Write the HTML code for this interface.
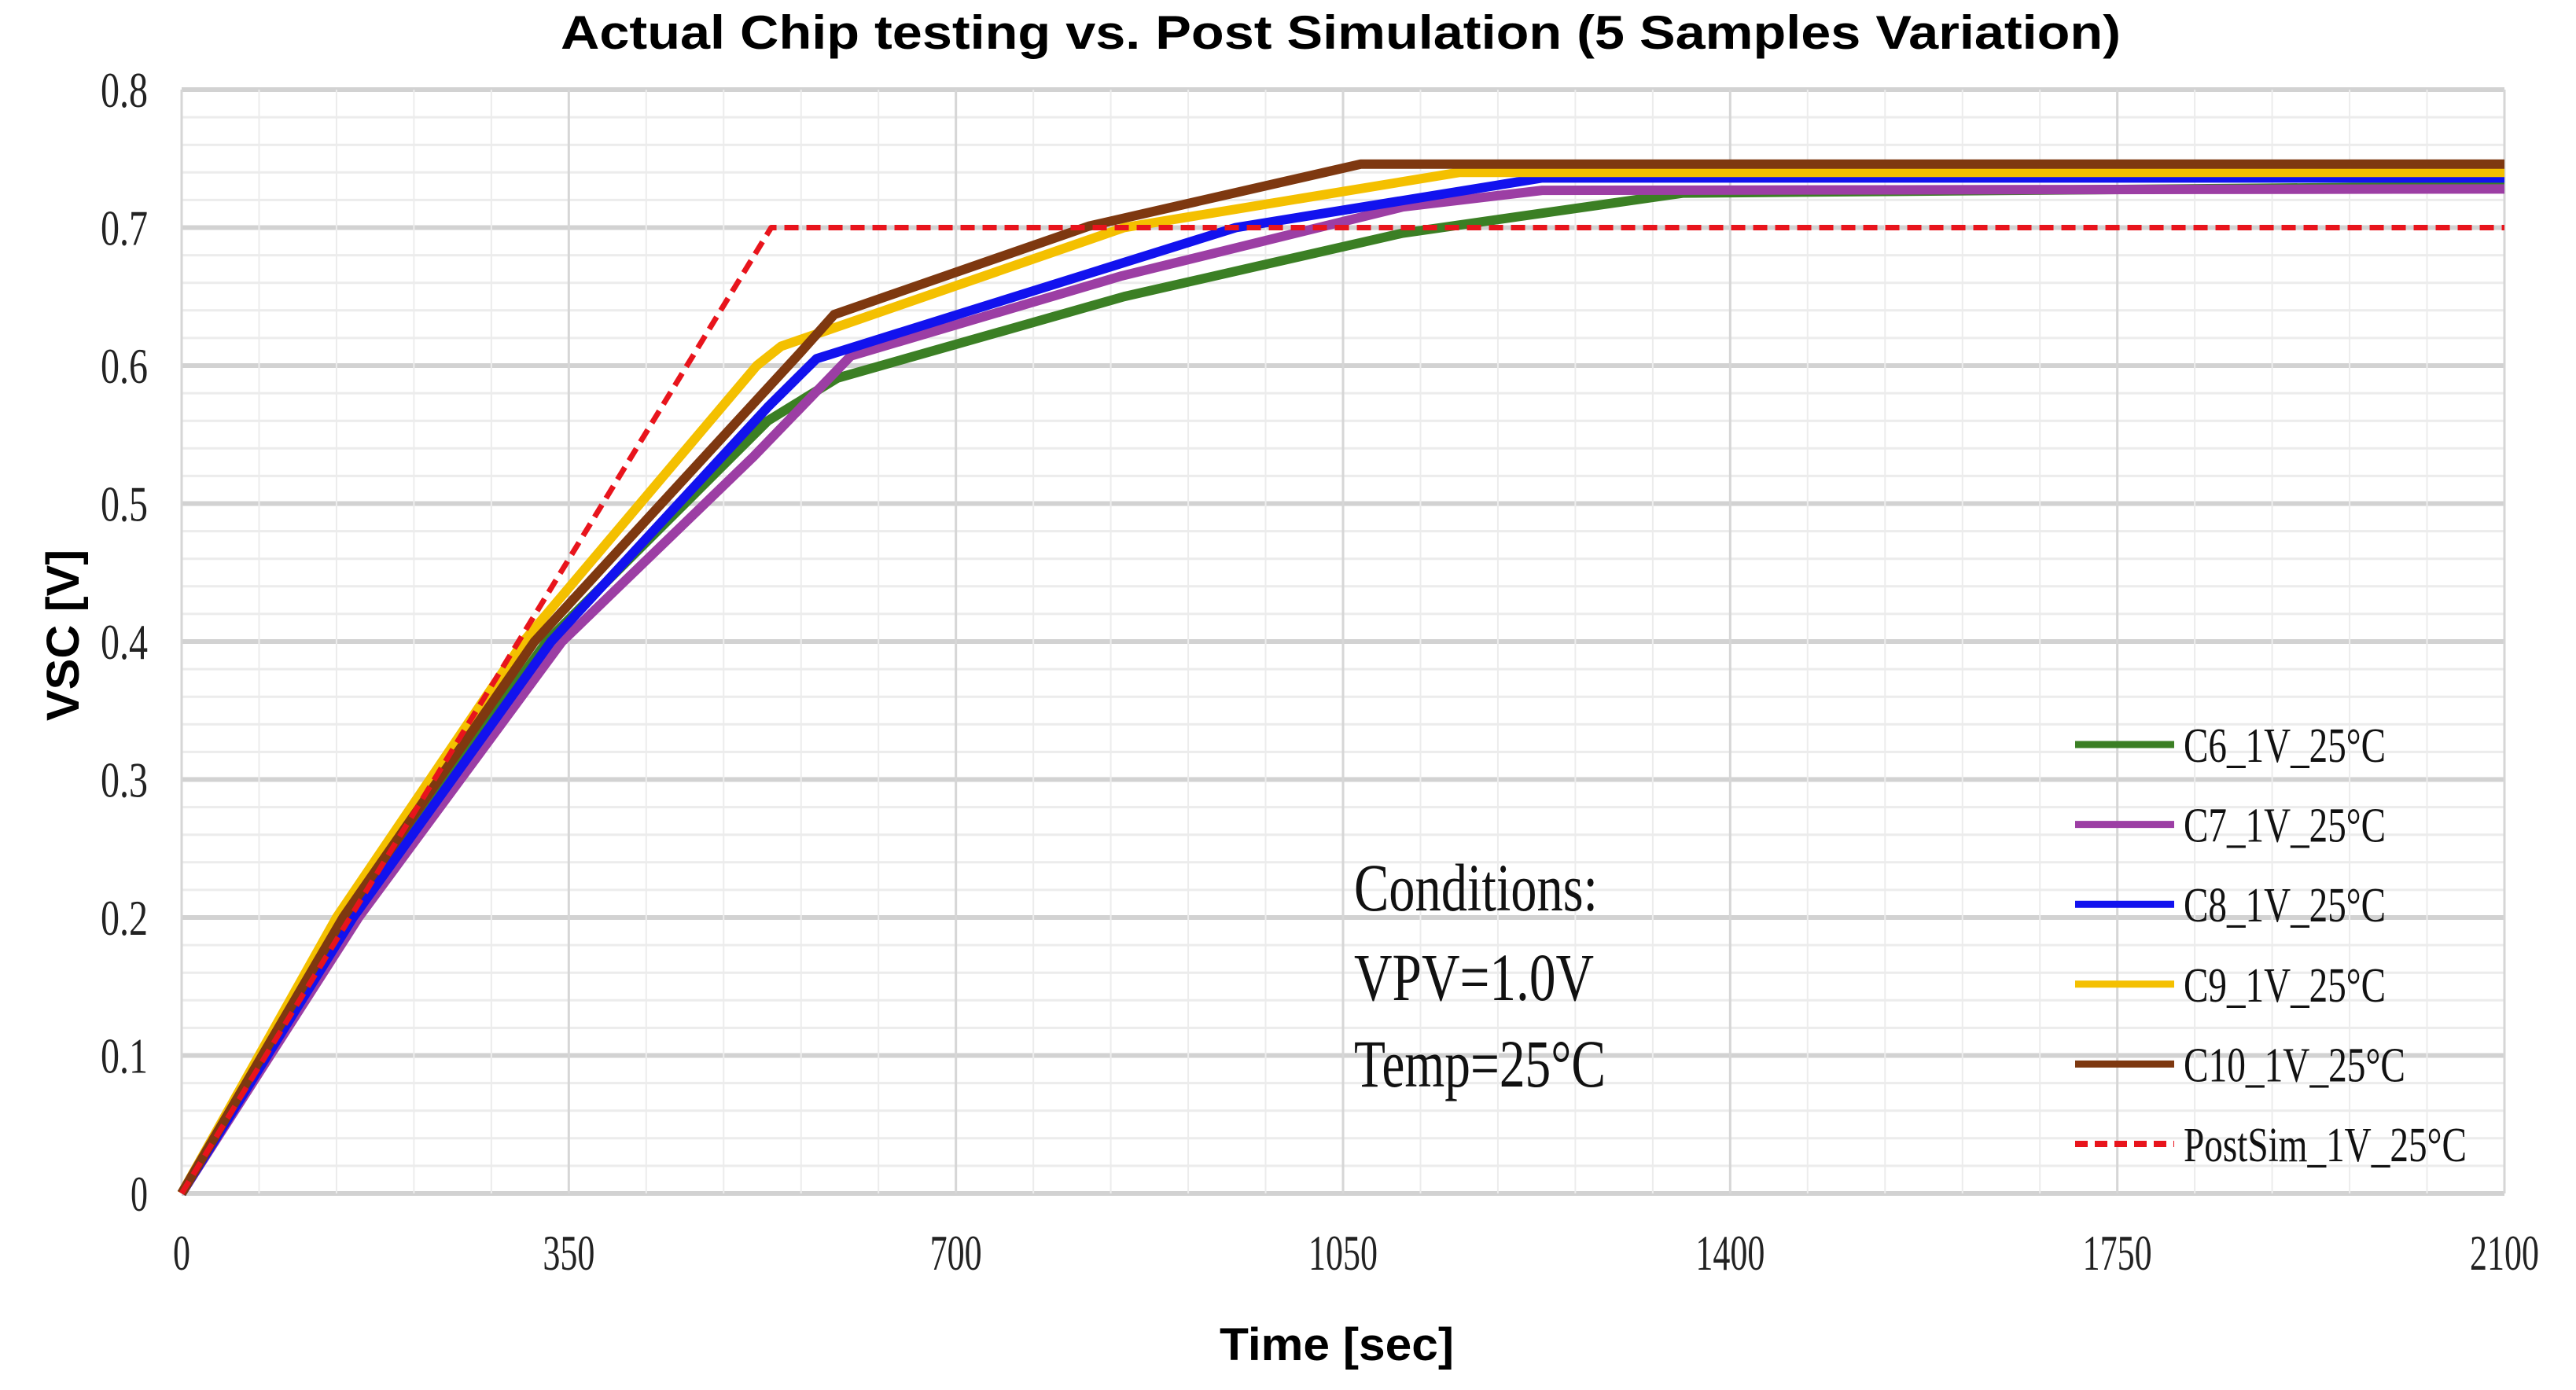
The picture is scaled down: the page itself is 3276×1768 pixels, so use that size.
<!DOCTYPE html>
<html><head><meta charset="utf-8"><style>
html,body{margin:0;padding:0;background:#fff;}
svg{display:block;}
</style></head><body>
<svg id="chart" width="3276" height="1768" viewBox="0 0 3276 1768" xmlns="http://www.w3.org/2000/svg">
<rect x="0" y="0" width="3276" height="1768" fill="#fff"/>
<g id="grid"></g>
<g id="series"></g>
<g id="ticks"></g>
<text x="1705" y="62" text-anchor="middle" font-family="Liberation Sans, sans-serif" font-weight="bold" font-size="60" textLength="1984" lengthAdjust="spacingAndGlyphs">Actual Chip testing vs. Post Simulation (5 Samples Variation)</text>
<text x="1700" y="1730" text-anchor="middle" font-family="Liberation Sans, sans-serif" font-weight="bold" font-size="58" textLength="298" lengthAdjust="spacingAndGlyphs">Time [sec]</text>
<text transform="translate(100,808) rotate(-90)" text-anchor="middle" font-family="Liberation Sans, sans-serif" font-weight="bold" font-size="58" textLength="218" lengthAdjust="spacingAndGlyphs">VSC [V]</text>
<g font-family="Liberation Serif, serif" font-size="86" fill="#111">
<text x="1722" y="1158" textLength="310" lengthAdjust="spacingAndGlyphs">Conditions:</text>
<text x="1722" y="1272" textLength="305" lengthAdjust="spacingAndGlyphs">VPV=1.0V</text>
<text x="1722" y="1382" textLength="320" lengthAdjust="spacingAndGlyphs">Temp=25°C</text>
</g>
<g id="legend"></g>
</svg>
<script>
const names = ["C6_1V_25°C","C7_1V_25°C","C8_1V_25°C","C9_1V_25°C","C10_1V_25°C","PostSim_1V_25°C"];
const colors = ["#3b7f24","#9c3ea4","#1212ee","#f4c000","#7e3810","#e8141c"];
const c6T = [0,150,330,530,593,852,1104,1357,2100];
const c6V = [0,0.2,0.4,0.56,0.591,0.65,0.696,0.725,0.73];
const c7T = [0,160,344,517,605,850,1104,1230,2100];
const c7V = [0,0.2,0.4,0.534,0.607,0.665,0.715,0.727,0.728];
const c8T = [0,155,334,530,574,953,1230,2100];
const c8V = [0,0.2,0.4,0.57,0.605,0.70,0.736,0.736];
const c9T = [0,140,309,520,542,852,1155,2100];
const c9V = [0,0.2,0.4,0.6,0.614,0.70,0.74,0.74];
const c10T = [0,146,319,560,590,820,1066,2100];
const c10V = [0,0.2,0.4,0.61,0.637,0.701,0.746,0.746];
const simT = [0,533,2100];
const simV = [0,0.70,0.70];
const xTicks = [0,350,700,1050,1400,1750,2100];
const yTicks = [0,0.1,0.2,0.3,0.4,0.5,0.6,0.7,0.8];

const NS="http://www.w3.org/2000/svg";
const X0=231,X1=3185,Y0=1518,Y1=114;
function xs(t){return X0+(t/2100)*(X1-X0);}
function ys(v){return Y0-(v/0.8)*(Y0-Y1);}
function mk(tag,parent){const e=document.createElementNS(NS,tag);parent.appendChild(e);return e;}

const grid=document.getElementById('grid');
for(let v=0;v<=0.8001;v+=0.02){
  const major=Math.abs(v*10-Math.round(v*10))<1e-6;
  const l=mk('line',grid);
  
  
  l.setAttribute('x1',X0);l.setAttribute('x2',X1);l.setAttribute('y1',ys(v));l.setAttribute('y2',ys(v));
  l.setAttribute('stroke',major?'#d2d2d2':'#ececec');l.setAttribute('stroke-width',major?6:3);
}
for(let t=0;t<=2100;t+=70){
  const major=t%350===0;
  const l=mk('line',grid);
  
  
  l.setAttribute('x1',xs(t));l.setAttribute('x2',xs(t));l.setAttribute('y1',Y1);l.setAttribute('y2',Y0);
  l.setAttribute('stroke',major?'#d6d6d6':'#ececec');l.setAttribute('stroke-width',major?3:2);
}
const ticks=document.getElementById('ticks');
yTicks.forEach(v=>{
  const t=mk('text',ticks);
  
  
  t.setAttribute('x',188);t.setAttribute('y',ys(v)+22);t.setAttribute('text-anchor','end');
  t.setAttribute('font-family','Liberation Serif, serif');t.setAttribute('font-size','64');t.setAttribute('fill','#222');
  const s=v===0?'0':v.toFixed(1);
  t.setAttribute('textLength',s.length===1?22:60);t.setAttribute('lengthAdjust','spacingAndGlyphs');
  t.textContent=s;
});
xTicks.forEach(v=>{
  const t=mk('text',ticks);
  
  
  t.setAttribute('x',xs(v));t.setAttribute('y',1615);t.setAttribute('text-anchor','middle');
  t.setAttribute('font-family','Liberation Serif, serif');t.setAttribute('font-size','64');t.setAttribute('fill','#222');
  const s=String(v);
  t.setAttribute('textLength',s.length*22);t.setAttribute('lengthAdjust','spacingAndGlyphs');
  t.textContent=s;
});
const sT=[c6T,c7T,c8T,c9T,c10T,simT], sV=[c6V,c7V,c8V,c9V,c10V,simV];
const seriesG=document.getElementById('series');
const sNames=['series-c6','series-c7','series-c8','series-c9','series-c10','series-postsim'];
for(let i=0;i<6;i++){
  const p=mk('polyline',seriesG);
  
  
  p.setAttribute('points',sT[i].map((t,j)=>xs(t)+','+ys(sV[i][j])).join(' '));
  p.setAttribute('fill','none');p.setAttribute('stroke',colors[i]);
  p.setAttribute('stroke-width',i===5?7:12);p.setAttribute('stroke-linejoin','round');
  if(i===5)p.setAttribute('stroke-dasharray','18 10');
}
const legend=document.getElementById('legend');
const lw=[257,257,257,257,282,360];
for(let i=0;i<6;i++){
  const y=947+i*101.6;
  const l=mk('line',legend);
  
  
  l.setAttribute('x1',2639);l.setAttribute('x2',2765);l.setAttribute('y1',y);l.setAttribute('y2',y);
  l.setAttribute('stroke',colors[i]);l.setAttribute('stroke-width',i===5?8:9);
  if(i===5)l.setAttribute('stroke-dasharray','16 9');
  const t=mk('text',legend);
  
  
  t.setAttribute('x',2777);t.setAttribute('y',y+22);
  t.setAttribute('font-family','Liberation Serif, serif');t.setAttribute('font-size','62');t.setAttribute('fill','#111');
  t.setAttribute('textLength',lw[i]);t.setAttribute('lengthAdjust','spacingAndGlyphs');
  t.textContent=names[i];
}
</script>
</body></html>
